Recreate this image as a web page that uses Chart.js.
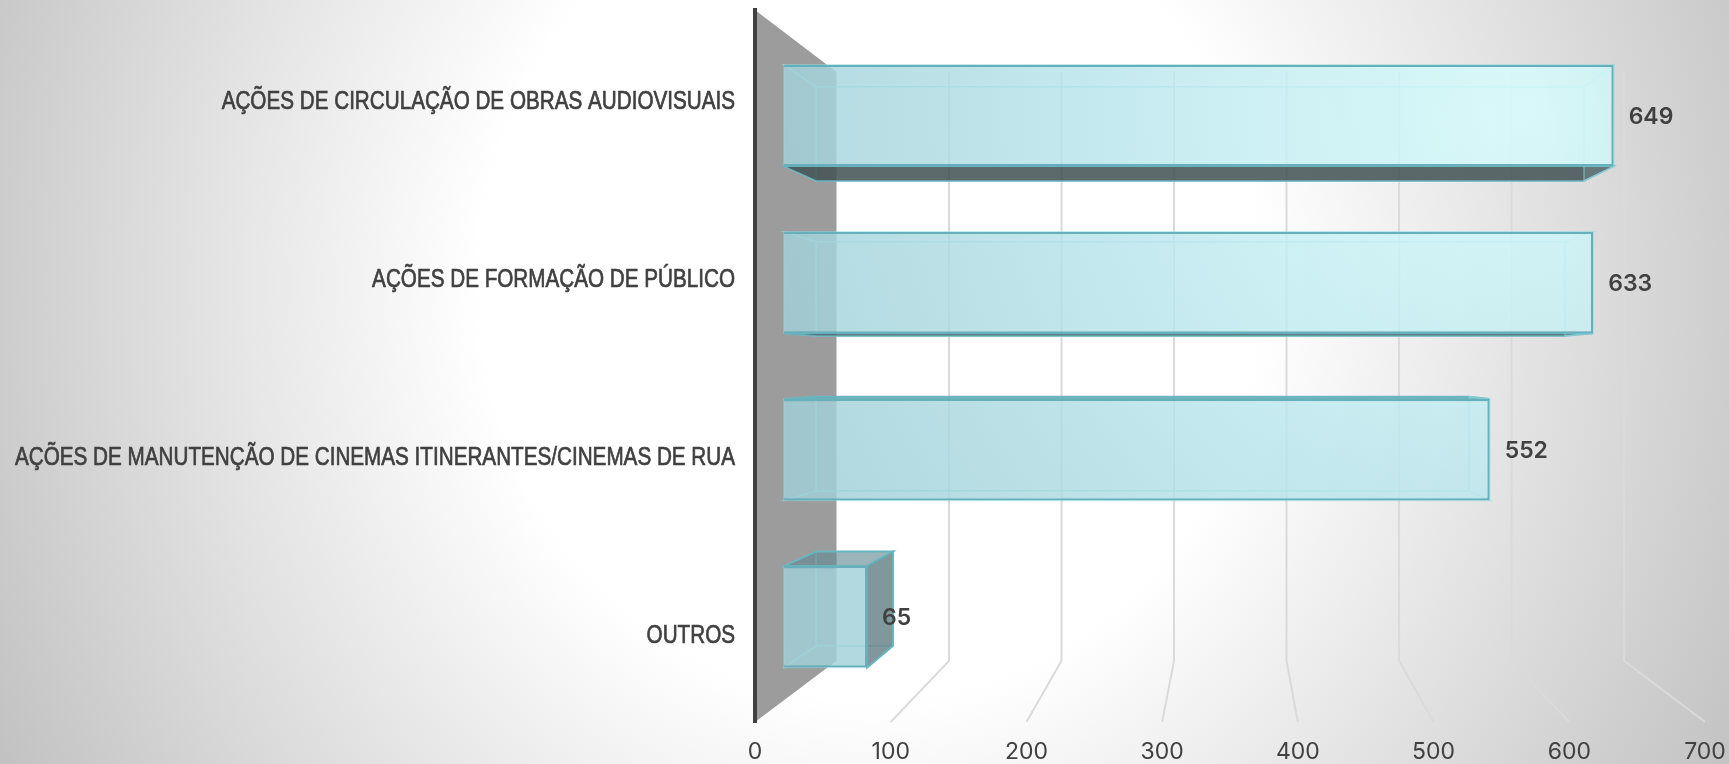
<!DOCTYPE html>
<html lang="pt">
<head>
<meta charset="utf-8">
<title>Ações</title>
<script src="https://cdn.jsdelivr.net/npm/chart.js@4"></script>
<style>
html,body{margin:0;padding:0;width:1729px;height:764px;overflow:hidden;
background:radial-gradient(ellipse 975px 1037px at 870px 285px,#ffffff 40%,#c2c2c2 100%);}
#wrap{position:absolute;left:0;top:0;width:1729px;height:764px;}
canvas{display:block;}
</style>
</head>
<body>
<div id="wrap"><canvas id="c" width="1729" height="764"></canvas></div>
<script>
const categories = [
  'AÇÕES DE CIRCULAÇÃO DE OBRAS AUDIOVISUAIS',
  'AÇÕES DE FORMAÇÃO DE PÚBLICO',
  'AÇÕES DE MANUTENÇÃO DE CINEMAS ITINERANTES/CINEMAS DE RUA',
  'OUTROS'
];
const seriesValues = [649, 633, 552, 65];
const valueTicks = [0, 100, 200, 300, 400, 500, 600, 700];

// perspective of the fake 3D box: t=0 is the axis plane, t=1 the back wall
const BACK = { dx: 81.5, sx: 0.829, dy: 62, sy: 0.827 };
const T_FRONT = 0.356, T_REAR = 0.75, FRONT_STRETCH = 1.003;
const LABEL_FONT = '"Liberation Sans", sans-serif';
const LABEL_SIZE = 26, LABEL_WIDTH = 720, LABEL_SHIFT = 3;

function plane(chart, t, stretch = 1) {
  const a = chart.chartArea;
  return {
    sx: (1 + (BACK.sx - 1) * t) * stretch,
    sy: 1 + (BACK.sy - 1) * t,
    x(px) { return a.left + BACK.dx * t + (px - a.left) * this.sx; },
    y(py) { return a.top + BACK.dy * t + (py - a.top) * this.sy; }
  };
}

function fillPoly(ctx, pts, fill, stroke, lw) {
  ctx.beginPath();
  pts.forEach((p, i) => i ? ctx.lineTo(p[0], p[1]) : ctx.moveTo(p[0], p[1]));
  ctx.closePath();
  if (fill) { ctx.fillStyle = fill; ctx.fill(); }
  if (stroke) { ctx.strokeStyle = stroke; ctx.lineWidth = lw || 1; ctx.stroke(); }
}

function glassFill(chart, alpha, toDepth) {
  // bright spot high on the right, duller towards the lower left
  const ctx = chart.ctx, p = plane(chart, toDepth, FRONT_STRETCH);
  const ix = (x) => chart.chartArea.left + (x - chart.chartArea.left - BACK.dx * toDepth) / p.sx;
  const iy = (y) => chart.chartArea.top + (y - chart.chartArea.top - BACK.dy * toDepth) / p.sy;
  const g = ctx.createRadialGradient(ix(1520), iy(110), 0, ix(1520), iy(110), 820);
  g.addColorStop(0, `rgba(215,253,254,${alpha})`);
  g.addColorStop(0.5, `rgba(186,230,236,${alpha})`);
  g.addColorStop(1, `rgba(160,208,216,${alpha})`);
  return g;
}

const scene = {
  id: 'scene',
  beforeDraw(chart) {
    const ctx = chart.ctx, a = chart.chartArea, xs = chart.scales.x;
    const back = plane(chart, 1);
    ctx.save();
    // side wall
    fillPoly(ctx, [[a.left, a.top], [back.x(a.left), back.y(a.top)],
      [back.x(a.left), back.y(a.bottom)], [a.left, a.bottom]], '#9c9c9c');
    // gridlines: along the floor, then up the back wall
    ctx.lineWidth = 2;
    ctx.strokeStyle = '#dadada';
    valueTicks.forEach(v => {
      if (v === 0) return;
      const px = xs.getPixelForValue(v);
      ctx.beginPath();
      ctx.moveTo(px, a.bottom);
      ctx.lineTo(back.x(px), back.y(a.bottom));
      ctx.lineTo(back.x(px), back.y(a.top));
      ctx.stroke();
    });
    ctx.restore();
  },
  beforeDatasetsDraw(chart) {
    const ctx = chart.ctx;
    const f = plane(chart, T_FRONT, FRONT_STRETCH), r = plane(chart, T_REAR);
    const meta = chart.getDatasetMeta(0);
    const inner = 'rgba(150,222,230,0.5)';
    ctx.save();
    meta.data.forEach(bar => {
      const x0 = bar.base, x1 = bar.x, y0 = bar.y - bar.height / 2, y1 = bar.y + bar.height / 2;
      const F = { l: f.x(x0), r: f.x(x1), t: f.y(y0), b: f.y(y1) };
      const R = { l: r.x(x0), r: r.x(x1), t: r.y(y0), b: r.y(y1) };
      // far panel
      fillPoly(ctx, [[R.l, R.t], [R.r, R.t], [R.r, R.b], [R.l, R.b]], 'rgba(190,235,240,0.12)', inner, 1.5);
      // left panel and the inner faces
      fillPoly(ctx, [[F.l, F.t], [R.l, R.t], [R.l, R.b], [F.l, F.b]], 'rgba(170,215,222,0.12)', inner, 1.5);
      const top = [[F.l, F.t], [F.r, F.t], [R.r, R.t], [R.l, R.t]];
      const bottom = [[F.l, F.b], [F.r, F.b], [R.r, R.b], [R.l, R.b]];
      const right = [[F.r, F.t], [R.r, R.t], [R.r, R.b], [F.r, F.b]];
      const edge = 'rgba(104,180,192,0.95)';
      if (R.t < F.t) fillPoly(ctx, top, 'rgba(92,130,137,0.58)', edge, 2);
      else fillPoly(ctx, top, 'rgba(190,235,240,0.12)', inner, 1.5);
      if (R.b > F.b) fillPoly(ctx, bottom, 'rgba(66,82,84,0.86)', edge, 1.5);
      else fillPoly(ctx, bottom, 'rgba(190,235,240,0.12)', inner, 1.5);
      if (R.r > F.r) fillPoly(ctx, right, 'rgba(78,108,114,0.7)', edge, 2);
      else fillPoly(ctx, right, 'rgba(200,245,248,0.12)', inner, 1.5);
    });
    ctx.restore();
  },
  beforeDatasetDraw(chart) {
    const ctx = chart.ctx, a = chart.chartArea, f = plane(chart, T_FRONT, FRONT_STRETCH);
    ctx.save();
    ctx.translate(f.x(a.left), f.y(a.top));
    ctx.scale(f.sx, f.sy);
    ctx.translate(-a.left, -a.top);
  },
  afterDatasetDraw(chart) { chart.ctx.restore(); },
  afterDatasetsDraw(chart) {
    const ctx = chart.ctx, f = plane(chart, T_FRONT, FRONT_STRETCH);
    ctx.save();
    ctx.fillStyle = '#404040';
    ctx.font = '600 23px Inter, Roboto, sans-serif';
    ctx.textAlign = 'left';
    ctx.textBaseline = 'middle';
    chart.getDatasetMeta(0).data.forEach((bar, i) => {
      ctx.fillText(String(seriesValues[i]), f.x(bar.x) + 15, f.y(bar.y) + 1);
    });
    ctx.restore();
  }
};

// squeeze the category labels horizontally about their right edge (no condensed font installed)
function condenseLabels(scale) {
  if (scale._condensed) return;
  scale._condensed = true;
  scale._computeLabelArea = () => undefined;
  const orig = scale.drawLabels.bind(scale);
  scale.drawLabels = function (area) {
    const ctx = scale.ctx;
    ctx.save();
    ctx.font = `${LABEL_SIZE}px ${LABEL_FONT}`;
    const w = Math.max(...categories.map(c => ctx.measureText(c).width));
    const anchor = scale.right - scale.options.ticks.padding;
    ctx.translate(anchor, LABEL_SHIFT);
    ctx.scale(LABEL_WIDTH / w, 1);
    ctx.translate(-anchor, 0);
    orig(area);
    ctx.restore();
  };
}
function noOverhang(s) { s.paddingLeft = s.paddingRight = s.paddingTop = s.paddingBottom = 0; }

Chart.defaults.animation = false;
new Chart(document.getElementById('c'), {
  type: 'bar',
  plugins: [scene],
  data: {
    labels: categories,
    datasets: [{
      label: 'Ações',
      data: seriesValues,
      barPercentage: 0.608,
      categoryPercentage: 1,
      borderWidth: 2.4,
      borderColor: '#66b0bc',
      backgroundColor: c => c.chart.chartArea ? glassFill(c.chart, 0.8, T_FRONT) : 'rgba(190,230,236,0.8)'
    }]
  },
  options: {
    indexAxis: 'y',
    responsive: false,
    animation: false,
    layout: { padding: { top: 10, right: 24, left: 0, bottom: 0 } },
    plugins: { legend: { display: false }, tooltip: { enabled: false }, title: { display: false } },
    scales: {
      x: {
        type: 'linear', min: 0, max: 700,
        afterBuildTicks: s => { s.ticks = valueTicks.map(v => ({ value: v })); },
        afterFit: s => { s.height = 42; noOverhang(s); },
        grid: { display: false, drawTicks: false },
        border: { display: false },
        ticks: { color: '#404040', padding: 16, maxRotation: 0, autoSkip: false,
          font: { family: 'Inter, Roboto, sans-serif', size: 23, weight: '400' } }
      },
      y: {
        type: 'category',
        afterFit: s => { s.width = 755; noOverhang(s); condenseLabels(s); },
        grid: { display: false, drawTicks: false },
        border: { display: true, color: '#404040', width: 4 },
        ticks: { color: '#404040', padding: 20, autoSkip: false, maxRotation: 0,
          textStrokeColor: '#404040', textStrokeWidth: 0.7,
          font: { family: LABEL_FONT, size: LABEL_SIZE, weight: '400' } }
      }
    }
  }
});
</script>
</body>
</html>
